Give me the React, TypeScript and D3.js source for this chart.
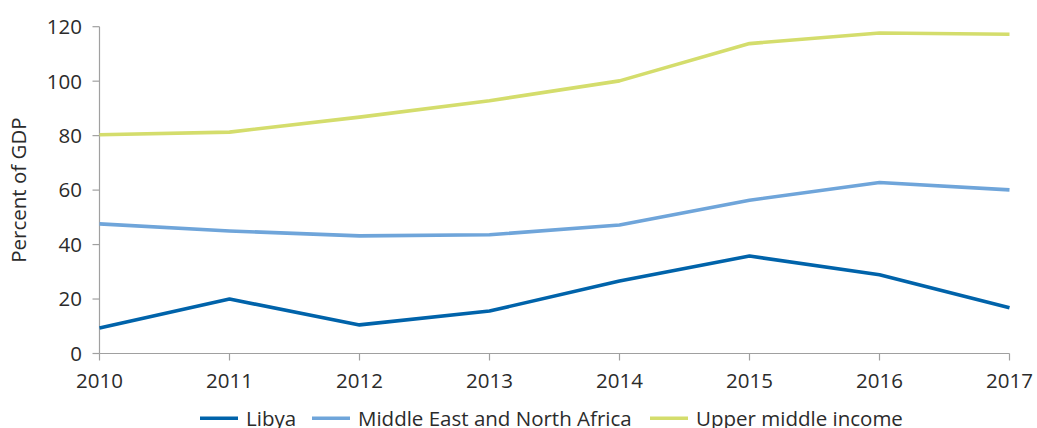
import React from "react";
import * as d3 from "d3";

const years = [2010, 2011, 2012, 2013, 2014, 2015, 2016, 2017];
const libya = [9.4, 20.0, 10.5, 15.6, 26.6, 35.8, 28.9, 16.8];
const mena = [47.6, 45.0, 43.2, 43.6, 47.2, 56.3, 62.8, 60.1];
const umi = [80.3, 81.3, 86.8, 92.8, 100.1, 113.8, 117.7, 117.2];
const yTicks = [0, 20, 40, 60, 80, 100, 120];
const seriesNames = ["Libya", "Middle East and North Africa", "Upper middle income"];
const colors = ["#0063aa", "#6fa5da", "#d4dd6c"];

export default function App() {
  const W = 1037, H = 428;
  const x = d3.scaleLinear().domain([2010, 2017]).range([99.5, 1009.5]);
  const y = d3.scaleLinear().domain([0, 120]).range([353.5, 26.7]);
  const font = "'Open Sans', 'Noto Sans', sans-serif";
  const line = d3.line<number>().x((_, i) => x(years[i])).y((d) => y(d));
  const allSeries = [libya, mena, umi];
  const legendX = [200, 312, 650];
  const fs = 20.5;
  const textColor = "#2b2b2b";
  return (
    <svg width={W} height={H} style={{ position: "absolute", left: 0, top: 0 }} fontFamily={font}>
      {/* y axis */}
      <line x1={x(2010)} x2={x(2010)} y1={y(0)} y2={y(120)} stroke="#a0a0a0" strokeWidth={1.2} />
      {yTicks.map((t) => (
        <g key={t}>
          <line x1={x(2010) - 7} x2={x(2010)} y1={y(t)} y2={y(t)} stroke="#a0a0a0" strokeWidth={1.2} />
          <text x={82} y={y(t)} dy="0.36em" textAnchor="end" fontSize={fs} fill={textColor}>{t}</text>
        </g>
      ))}
      {/* x axis */}
      <line x1={x(2010)} x2={x(2017)} y1={y(0)} y2={y(0)} stroke="#a0a0a0" strokeWidth={1.2} />
      {years.map((yr) => (
        <g key={yr}>
          <line x1={x(yr)} x2={x(yr)} y1={y(0)} y2={y(0) + 7} stroke="#a0a0a0" strokeWidth={1.2} />
          <text x={x(yr)} y={387.5} textAnchor="middle" fontSize={fs} fill={textColor}>{yr}</text>
        </g>
      ))}
      <text transform={`translate(25.5, ${y(60)}) rotate(-90)`} textAnchor="middle" fontSize={fs} fill={textColor}>Percent of GDP</text>
      {allSeries.slice().reverse().map((s, ri) => {
        const i = allSeries.length - 1 - ri;
        return <path key={i} d={line(s) || ""} fill="none" stroke={colors[i]} strokeWidth={3.6} strokeLinejoin="round" />;
      })}
      {seriesNames.map((n, i) => (
        <g key={n}>
          <line x1={legendX[i]} x2={legendX[i] + 38} y1={418.3} y2={418.3} stroke={colors[i]} strokeWidth={3.6} />
          <text x={legendX[i] + 46} y={426} fontSize={fs} fill={textColor}>{n}</text>
        </g>
      ))}
    </svg>
  );
}
